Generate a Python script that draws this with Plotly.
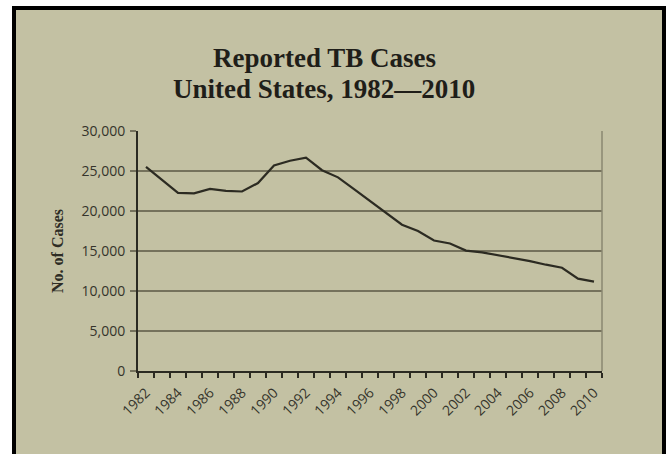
import plotly.graph_objects as go

years = list(range(1982, 2011))
cases = [25520, 23846, 22255, 22201, 22768, 22517, 22436, 23495, 25701, 26283,
         26673, 25102, 24206, 22727, 21210, 19751, 18287, 17499, 16308, 15945,
         15055, 14835, 14499, 14067, 13732, 13288, 12904, 11537, 11181]
x_tick_vals = list(range(1982, 2011, 2))
x_tick_text = [str(v) for v in x_tick_vals]
y_tick_vals = [0, 5000, 10000, 15000, 20000, 25000, 30000]
y_tick_text = ["0", "5,000", "10,000", "15,000", "20,000", "25,000", "30,000"]
title_lines = ["Reported TB Cases", "United States, 1982\u20142010"]

BG = "#c3c1a3"
GRID = "#75725c"
AXIS = "#2b2a22"
TXT = "#35342b"

W, H = 668, 454
L, R, T, B = 138, 602, 131, 371

def px(xp):
    return (xp - L) / (R - L)

def py(yp):
    return (B - yp) / (B - T)

fig = go.Figure()
fig.add_trace(go.Scatter(x=years, y=cases, mode="lines",
                         line=dict(color="#2c2b22", width=2.2),
                         hoverinfo="skip", showlegend=False))

annotations = []
for text, yc in zip(title_lines, [58, 89]):
    annotations.append(dict(text=text, xref="paper", yref="paper",
                            x=px(324), y=py(yc), xanchor="center",
                            yanchor="middle", showarrow=False,
                            font=dict(family="Liberation Serif", size=27,
                                      color="#1f1e19", weight="bold")))

fig.update_layout(
    width=W, height=H,
    margin=dict(l=L, r=W - R, t=T, b=H - B, autoexpand=False),
    paper_bgcolor="white",
    plot_bgcolor="rgba(0,0,0,0)",
    showlegend=False,
    annotations=annotations,
    xaxis=dict(
        range=[1981.5, 2010.5], tickmode="array", tickvals=x_tick_vals,
        ticktext=x_tick_text, tickangle=-45, ticks="", showgrid=False,
        zeroline=False, showline=True, linecolor=AXIS, linewidth=2,
        automargin=False, ticklabelstandoff=6,
        tickfont=dict(family="Open Sans", size=14, color=TXT),
        minor=dict(tickmode="linear", tick0=1981.5, dtick=1, ticks="outside",
                   ticklen=5, tickwidth=1.5, tickcolor=AXIS, showgrid=False),
    ),
    yaxis=dict(
        range=[0, 30000], tickmode="array", tickvals=y_tick_vals,
        ticktext=y_tick_text, ticks="outside", ticklen=6, tickwidth=1.5,
        tickcolor=GRID, showgrid=True, gridcolor=GRID, gridwidth=1.5,
        zeroline=False, showline=True, linecolor=AXIS, linewidth=2,
        automargin=False, ticklabelstandoff=2,
        tickfont=dict(family="Open Sans", size=14, color=TXT),
        title=dict(text="No. of Cases", standoff=14,
                   font=dict(family="Liberation Serif", size=16,
                             color="#2e2d25", weight="bold")),
    ),
    shapes=[
        dict(type="rect", xref="paper", yref="paper", layer="below",
             x0=px(14), x1=px(664), y0=py(470), y1=py(8),
             fillcolor=BG, line=dict(color="black", width=4)),
        dict(type="line", xref="paper", yref="paper", layer="above",
             x0=1, x1=1, y0=0, y1=1, line=dict(color="#8a8770", width=1.5)),
    ],
)

fig.write_html("out.html", config={"displayModeBar": False},
               post_script="document.body.style.margin='0';"
                           "document.body.style.overflow='hidden';")
